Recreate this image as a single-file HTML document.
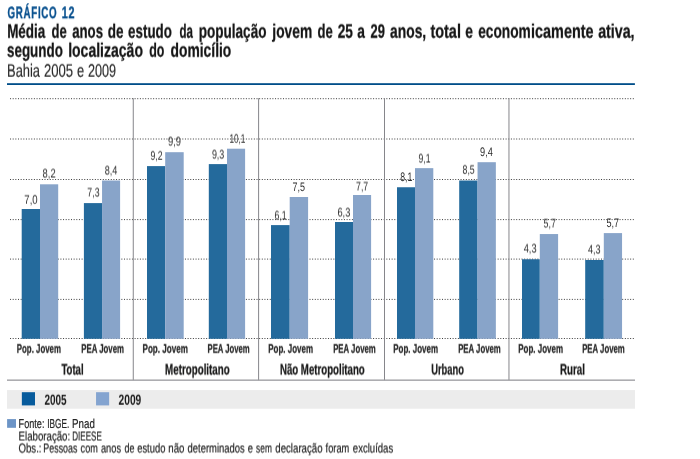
<!DOCTYPE html><html><head><meta charset="utf-8"><title>Gráfico 12</title><style>html,body{margin:0;padding:0;background:#fff;}body{width:700px;height:459px;overflow:hidden;}svg{display:block;will-change:transform;font-family:"Liberation Sans",sans-serif;}text{white-space:pre;text-rendering:geometricPrecision;}</style></head><body><svg width="700" height="459" viewBox="0 0 700 459">
<rect x="0" y="0" width="700" height="459" fill="#fff"/>
<rect x="7" y="83.2" width="627.9" height="1.8" fill="#004e89"/>
<rect x="7" y="390.1" width="628" height="18.6" fill="#ececec"/>
<line x1="10.05" x2="634.9" y1="98.7" y2="98.7" stroke="#3c3c3c" stroke-width="1" stroke-dasharray="1 1.65"/>
<line x1="10.05" x2="634.9" y1="139.0" y2="139.0" stroke="#3c3c3c" stroke-width="1" stroke-dasharray="1 1.65"/>
<line x1="10.05" x2="634.9" y1="179.5" y2="179.5" stroke="#3c3c3c" stroke-width="1" stroke-dasharray="1 1.65"/>
<line x1="10.05" x2="634.9" y1="219.6" y2="219.6" stroke="#3c3c3c" stroke-width="1" stroke-dasharray="1 1.65"/>
<line x1="10.05" x2="634.9" y1="259.1" y2="259.1" stroke="#3c3c3c" stroke-width="1" stroke-dasharray="1 1.65"/>
<line x1="10.05" x2="634.9" y1="299.4" y2="299.4" stroke="#3c3c3c" stroke-width="1" stroke-dasharray="1 1.65"/>
<line x1="10.05" x2="634.9" y1="338.5" y2="338.5" stroke="#3c3c3c" stroke-width="1" stroke-dasharray="1 1.65"/>
<rect x="21.7" y="209.0" width="18.30" height="129.80" fill="#246a9c"/>
<rect x="40.0" y="184.3" width="18.20" height="154.50" fill="#88a4c9"/>
<rect x="83.9" y="203.1" width="18.15" height="135.70" fill="#246a9c"/>
<rect x="102.05" y="180.5" width="18.05" height="158.30" fill="#88a4c9"/>
<rect x="147.0" y="166.1" width="18.20" height="172.70" fill="#246a9c"/>
<rect x="165.2" y="152.2" width="18.50" height="186.60" fill="#88a4c9"/>
<rect x="208.8" y="164.1" width="18.20" height="174.70" fill="#246a9c"/>
<rect x="227.0" y="148.7" width="18.10" height="190.10" fill="#88a4c9"/>
<rect x="271.0" y="225.1" width="18.70" height="113.70" fill="#246a9c"/>
<rect x="289.7" y="197.0" width="18.40" height="141.80" fill="#88a4c9"/>
<rect x="335.0" y="222.0" width="18.00" height="116.80" fill="#246a9c"/>
<rect x="353.0" y="195.0" width="18.10" height="143.80" fill="#88a4c9"/>
<rect x="397.0" y="187.25" width="18.00" height="151.55" fill="#246a9c"/>
<rect x="415.0" y="168.15" width="18.30" height="170.65" fill="#88a4c9"/>
<rect x="459.2" y="180.5" width="18.35" height="158.30" fill="#246a9c"/>
<rect x="477.55" y="162.2" width="18.30" height="176.60" fill="#88a4c9"/>
<rect x="522.0" y="259.25" width="17.80" height="79.55" fill="#246a9c"/>
<rect x="539.8" y="234.05" width="18.30" height="104.75" fill="#88a4c9"/>
<rect x="585.2" y="260.0" width="18.60" height="78.80" fill="#246a9c"/>
<rect x="603.8" y="233.1" width="18.25" height="105.70" fill="#88a4c9"/>
<rect x="132.76" y="98.2" width="1" height="282" fill="#86868b"/>
<rect x="258.10" y="98.2" width="1" height="282" fill="#86868b"/>
<rect x="384.00" y="98.2" width="1" height="282" fill="#86868b"/>
<rect x="508.46" y="98.2" width="1" height="282" fill="#86868b"/>
<rect x="7" y="379.5" width="628" height="1.3" fill="#9a9a9e"/>
<rect x="21.85" y="392.2" width="13.15" height="13.2" fill="#075b9c"/>
<rect x="96.05" y="392.2" width="13.1" height="13.2" fill="#84a4d0"/>
<rect x="7.1" y="419.1" width="8.9" height="8.7" fill="#6c94c6"/>
<defs>
<filter id="s1" x="-5%" y="-30%" width="110%" height="160%" color-interpolation-filters="sRGB"><feConvolveMatrix order="1 2" kernelMatrix="0.75 0.25" divisor="1" targetX="0" targetY="1" edgeMode="none" preserveAlpha="false"/></filter>
<filter id="s2" x="-5%" y="-30%" width="110%" height="160%" color-interpolation-filters="sRGB"><feConvolveMatrix order="1 2" kernelMatrix="0.5 0.5" divisor="1" targetX="0" targetY="1" edgeMode="none" preserveAlpha="false"/></filter>
<filter id="s3" x="-5%" y="-30%" width="110%" height="160%" color-interpolation-filters="sRGB"><feConvolveMatrix order="1 2" kernelMatrix="0.25 0.75" divisor="1" targetX="0" targetY="1" edgeMode="none" preserveAlpha="false"/></filter>
</defs>
<g filter="url(#s1)">
<text transform="translate(7.52 18) scale(0.5839 1)" font-size="16.72" font-weight="700" fill="#09518f" stroke="#09518f" stroke-width="0.4" letter-spacing="1.2">GRÁFICO</text>
<text transform="translate(61.80 18) scale(0.6467 1)" font-size="16.72" font-weight="700" fill="#09518f" stroke="#09518f" stroke-width="0.4" letter-spacing="1.2">12</text>
</g>
<g filter="url(#s3)">
<text transform="translate(7.14 37) scale(0.6914 1)" font-size="19.48" font-weight="700" fill="#161616" stroke="#161616" stroke-width="0.3">Média</text>
<text transform="translate(51.58 37) scale(0.6692 1)" font-size="19.48" font-weight="700" fill="#161616" stroke="#161616" stroke-width="0.3">de</text>
<text transform="translate(72.14 37) scale(0.6801 1)" font-size="19.48" font-weight="700" fill="#161616" stroke="#161616" stroke-width="0.3">anos</text>
<text transform="translate(107.66 37) scale(0.6923 1)" font-size="19.48" font-weight="700" fill="#161616" stroke="#161616" stroke-width="0.3">de</text>
<text transform="translate(128.09 37) scale(0.6860 1)" font-size="19.48" font-weight="700" fill="#161616" stroke="#161616" stroke-width="0.3">estudo</text>
<text transform="translate(179.52 37) scale(0.5909 1)" font-size="19.48" font-weight="700" fill="#161616" stroke="#161616" stroke-width="0.3">da</text>
<text transform="translate(198.65 37) scale(0.6967 1)" font-size="19.48" font-weight="700" fill="#161616" stroke="#161616" stroke-width="0.3">população</text>
<text transform="translate(272.36 37) scale(0.7071 1)" font-size="19.48" font-weight="700" fill="#161616" stroke="#161616" stroke-width="0.3">jovem</text>
<text transform="translate(317.58 37) scale(0.6692 1)" font-size="19.48" font-weight="700" fill="#161616" stroke="#161616" stroke-width="0.3">de</text>
<text transform="translate(337.63 37) scale(0.7011 1)" font-size="19.48" font-weight="700" fill="#161616" stroke="#161616" stroke-width="0.3">25</text>
<text transform="translate(357.30 37) scale(0.7087 1)" font-size="19.48" font-weight="700" fill="#161616" stroke="#161616" stroke-width="0.3">a</text>
<text transform="translate(370.57 37) scale(0.6618 1)" font-size="19.48" font-weight="700" fill="#161616" stroke="#161616" stroke-width="0.3">29</text>
<text transform="translate(390.06 37) scale(0.7102 1)" font-size="19.48" font-weight="700" fill="#161616" stroke="#161616" stroke-width="0.3">anos,</text>
<text transform="translate(430.38 37) scale(0.7433 1)" font-size="19.48" font-weight="700" fill="#161616" stroke="#161616" stroke-width="0.3">total</text>
<text transform="translate(465.34 37) scale(0.7087 1)" font-size="19.48" font-weight="700" fill="#161616" stroke="#161616" stroke-width="0.3">e</text>
<text transform="translate(478.14 37) scale(0.7055 1)" font-size="19.48" font-weight="700" fill="#161616" stroke="#161616" stroke-width="0.3">econom</text>
<text transform="translate(531.05 37) scale(0.7398 1)" font-size="19.48" font-weight="700" fill="#161616" stroke="#161616" stroke-width="0.3">icamente</text>
<text transform="translate(598.16 37) scale(0.7312 1)" font-size="19.48" font-weight="700" fill="#161616" stroke="#161616" stroke-width="0.3">ativa,</text>
</g>
<g filter="url(#s3)">
<text transform="translate(6.97 56) scale(0.6887 1)" font-size="19.48" font-weight="700" fill="#161616" stroke="#161616" stroke-width="0.3">segundo</text>
<text transform="translate(68.15 56) scale(0.7203 1)" font-size="19.48" font-weight="700" fill="#161616" stroke="#161616" stroke-width="0.3">localização</text>
<text transform="translate(149.23 56) scale(0.6395 1)" font-size="19.48" font-weight="700" fill="#161616" stroke="#161616" stroke-width="0.3">do</text>
<text transform="translate(170.53 56) scale(0.7111 1)" font-size="19.48" font-weight="700" fill="#161616" stroke="#161616" stroke-width="0.3">domicílio</text>
</g>
<g filter="url(#s3)">
<text transform="translate(7.02 76) scale(0.7110 1)" font-size="18.17" font-weight="400" fill="#2a2a2a" stroke="#2a2a2a" stroke-width="0.15">Bahia</text>
<text transform="translate(43.94 76) scale(0.7216 1)" font-size="18.17" font-weight="400" fill="#2a2a2a" stroke="#2a2a2a" stroke-width="0.15">2005</text>
<text transform="translate(76.93 76) scale(0.7099 1)" font-size="18.17" font-weight="400" fill="#2a2a2a" stroke="#2a2a2a" stroke-width="0.15">e</text>
<text transform="translate(87.98 76) scale(0.6967 1)" font-size="18.17" font-weight="400" fill="#2a2a2a" stroke="#2a2a2a" stroke-width="0.15">2009</text>
</g>
<g filter="url(#s3)">
<text transform="translate(24.34 203) scale(0.7714 1)" font-size="12.43" font-weight="400" fill="#2b2b2b">7,0</text>
</g>
<g filter="url(#s2)">
<text transform="translate(42.57 177) scale(0.7541 1)" font-size="12.43" font-weight="400" fill="#2b2b2b">8,2</text>
</g>
<g filter="url(#s2)">
<text transform="translate(87.35 196) scale(0.7044 1)" font-size="12.43" font-weight="400" fill="#2b2b2b">7,3</text>
</g>
<g filter="url(#s2)">
<text transform="translate(104.76 174) scale(0.7323 1)" font-size="12.43" font-weight="400" fill="#2b2b2b">8,4</text>
</g>
<g filter="url(#s3)">
<text transform="translate(150.54 159) scale(0.6985 1)" font-size="12.43" font-weight="400" fill="#2b2b2b">9,2</text>
</g>
<g filter="url(#s2)">
<text transform="translate(168.01 145) scale(0.7552 1)" font-size="12.43" font-weight="400" fill="#2b2b2b">9,9</text>
</g>
<g filter="url(#s2)">
<text transform="translate(211.90 158) scale(0.7193 1)" font-size="12.43" font-weight="400" fill="#2b2b2b">9,3</text>
</g>
<g filter="url(#s3)">
<text transform="translate(229.44 142) scale(0.6611 1)" font-size="12.43" font-weight="400" fill="#2b2b2b">10,1</text>
</g>
<g filter="url(#s2)">
<text transform="translate(274.62 219) scale(0.7001 1)" font-size="12.43" font-weight="400" fill="#2b2b2b">6,1</text>
</g>
<g>
<text transform="translate(292.41 191) scale(0.7220 1)" font-size="12.43" font-weight="400" fill="#2b2b2b">7,5</text>
</g>
<g filter="url(#s2)">
<text transform="translate(337.42 216) scale(0.7452 1)" font-size="12.43" font-weight="400" fill="#2b2b2b">6,3</text>
</g>
<g filter="url(#s2)">
<text transform="translate(356.03 190) scale(0.7068 1)" font-size="12.43" font-weight="400" fill="#2b2b2b">7,7</text>
</g>
<g>
<text transform="translate(400.23 181) scale(0.7000 1)" font-size="12.43" font-weight="400" fill="#2b2b2b">8,1</text>
</g>
<g filter="url(#s2)">
<text transform="translate(418.47 162) scale(0.6916 1)" font-size="12.43" font-weight="400" fill="#2b2b2b">9,1</text>
</g>
<g filter="url(#s3)">
<text transform="translate(462.54 173) scale(0.7042 1)" font-size="12.43" font-weight="400" fill="#2b2b2b">8,5</text>
</g>
<g>
<text transform="translate(480.11 156) scale(0.7397 1)" font-size="12.43" font-weight="400" fill="#2b2b2b">9,4</text>
</g>
<g filter="url(#s2)">
<text transform="translate(523.67 252) scale(0.7438 1)" font-size="12.43" font-weight="400" fill="#2b2b2b">4,3</text>
</g>
<g filter="url(#s2)">
<text transform="translate(543.57 227) scale(0.7110 1)" font-size="12.43" font-weight="400" fill="#2b2b2b">5,7</text>
</g>
<g filter="url(#s2)">
<text transform="translate(587.97 253) scale(0.7285 1)" font-size="12.43" font-weight="400" fill="#2b2b2b">4,3</text>
</g>
<g>
<text transform="translate(606.47 227) scale(0.7302 1)" font-size="12.43" font-weight="400" fill="#2b2b2b">5,7</text>
</g>
<g filter="url(#s3)">
<text transform="translate(16.78 352) scale(0.6376 1)" font-size="12.35" font-weight="700" fill="#2a2a2a" stroke="#2a2a2a" stroke-width="0.3">Pop. Jovem</text>
</g>
<g filter="url(#s3)">
<text transform="translate(81.21 352) scale(0.6341 1)" font-size="12.35" font-weight="700" fill="#2a2a2a" stroke="#2a2a2a" stroke-width="0.3">PEA Jovem</text>
</g>
<g filter="url(#s3)">
<text transform="translate(142.53 352) scale(0.6552 1)" font-size="12.35" font-weight="700" fill="#2a2a2a" stroke="#2a2a2a" stroke-width="0.3">Pop. Jovem</text>
</g>
<g filter="url(#s3)">
<text transform="translate(207.48 352) scale(0.6250 1)" font-size="12.35" font-weight="700" fill="#2a2a2a" stroke="#2a2a2a" stroke-width="0.3">PEA Jovem</text>
</g>
<g filter="url(#s3)">
<text transform="translate(268.19 352) scale(0.6464 1)" font-size="12.35" font-weight="700" fill="#2a2a2a" stroke="#2a2a2a" stroke-width="0.3">Pop. Jovem</text>
</g>
<g filter="url(#s3)">
<text transform="translate(333.15 352) scale(0.6311 1)" font-size="12.35" font-weight="700" fill="#2a2a2a" stroke="#2a2a2a" stroke-width="0.3">PEA Jovem</text>
</g>
<g filter="url(#s3)">
<text transform="translate(393.19 352) scale(0.6464 1)" font-size="12.35" font-weight="700" fill="#2a2a2a" stroke="#2a2a2a" stroke-width="0.3">Pop. Jovem</text>
</g>
<g filter="url(#s3)">
<text transform="translate(458.15 352) scale(0.6311 1)" font-size="12.35" font-weight="700" fill="#2a2a2a" stroke="#2a2a2a" stroke-width="0.3">PEA Jovem</text>
</g>
<g filter="url(#s3)">
<text transform="translate(518.19 352) scale(0.6464 1)" font-size="12.35" font-weight="700" fill="#2a2a2a" stroke="#2a2a2a" stroke-width="0.3">Pop. Jovem</text>
</g>
<g filter="url(#s3)">
<text transform="translate(582.15 352) scale(0.6311 1)" font-size="12.35" font-weight="700" fill="#2a2a2a" stroke="#2a2a2a" stroke-width="0.3">PEA Jovem</text>
</g>
<g filter="url(#s2)">
<text transform="translate(61.45 374) scale(0.6335 1)" font-size="15.12" font-weight="700" fill="#1a1a1a" stroke="#1a1a1a" stroke-width="0.3">Total</text>
</g>
<g filter="url(#s2)">
<text transform="translate(165.09 374) scale(0.6468 1)" font-size="15.12" font-weight="700" fill="#1a1a1a" stroke="#1a1a1a" stroke-width="0.3">Metropolitano</text>
</g>
<g filter="url(#s2)">
<text transform="translate(279.94 374) scale(0.6393 1)" font-size="15.12" font-weight="700" fill="#1a1a1a" stroke="#1a1a1a" stroke-width="0.3">Não Metropolitano</text>
</g>
<g filter="url(#s2)">
<text transform="translate(431.24 374) scale(0.6174 1)" font-size="15.12" font-weight="700" fill="#1a1a1a" stroke="#1a1a1a" stroke-width="0.3">Urbano</text>
</g>
<g filter="url(#s2)">
<text transform="translate(560.08 374) scale(0.6449 1)" font-size="15.12" font-weight="700" fill="#1a1a1a" stroke="#1a1a1a" stroke-width="0.3">Rural</text>
</g>
<g filter="url(#s3)">
<text transform="translate(44.44 404) scale(0.6804 1)" font-size="14.68" font-weight="700" fill="#1a1a1a">2005</text>
</g>
<g filter="url(#s3)">
<text transform="translate(118.55 404) scale(0.6974 1)" font-size="14.68" font-weight="700" fill="#1a1a1a">2009</text>
</g>
<g>
<text transform="translate(18.60 428) scale(0.7050 1)" font-size="12.94" font-weight="400" fill="#262626" stroke="#262626" stroke-width="0.2">Fonte:</text>
<text transform="translate(47.23 428) scale(0.6392 1)" font-size="12.94" font-weight="400" fill="#262626" stroke="#262626" stroke-width="0.2">IBGE.</text>
<text transform="translate(72.12 428) scale(0.7533 1)" font-size="12.94" font-weight="400" fill="#262626" stroke="#262626" stroke-width="0.2">Pnad</text>
</g>
<g filter="url(#s2)">
<text transform="translate(18.56 440) scale(0.7478 1)" font-size="12.94" font-weight="400" fill="#262626" stroke="#262626" stroke-width="0.2">Elaboração:</text>
<text transform="translate(72.27 440) scale(0.6224 1)" font-size="12.94" font-weight="400" fill="#262626" stroke="#262626" stroke-width="0.2">DIEESE</text>
</g>
<g filter="url(#s2)">
<text transform="translate(18.44 452) scale(0.7470 1)" font-size="12.94" font-weight="400" fill="#262626" stroke="#262626" stroke-width="0.2">Obs.:</text>
<text transform="translate(43.35 452) scale(0.6861 1)" font-size="12.94" font-weight="400" fill="#262626" stroke="#262626" stroke-width="0.2">Pessoas</text>
<text transform="translate(80.59 452) scale(0.7053 1)" font-size="12.94" font-weight="400" fill="#262626" stroke="#262626" stroke-width="0.2">com</text>
<text transform="translate(100.97 452) scale(0.7151 1)" font-size="12.94" font-weight="400" fill="#262626" stroke="#262626" stroke-width="0.2">anos</text>
<text transform="translate(124.48 452) scale(0.6916 1)" font-size="12.94" font-weight="400" fill="#262626" stroke="#262626" stroke-width="0.2">de</text>
<text transform="translate(137.20 452) scale(0.7261 1)" font-size="12.94" font-weight="400" fill="#262626" stroke="#262626" stroke-width="0.2">estudo</text>
<text transform="translate(168.33 452) scale(0.7480 1)" font-size="12.94" font-weight="400" fill="#262626" stroke="#262626" stroke-width="0.2">não</text>
<text transform="translate(187.54 452) scale(0.7286 1)" font-size="12.94" font-weight="400" fill="#262626" stroke="#262626" stroke-width="0.2">determinados</text>
<text transform="translate(247.82 452) scale(0.7219 1)" font-size="12.94" font-weight="400" fill="#262626" stroke="#262626" stroke-width="0.2">e</text>
<text transform="translate(256.12 452) scale(0.6433 1)" font-size="12.94" font-weight="400" fill="#262626" stroke="#262626" stroke-width="0.2">sem</text>
<text transform="translate(275.31 452) scale(0.7458 1)" font-size="12.94" font-weight="400" fill="#262626" stroke="#262626" stroke-width="0.2">declaração</text>
<text transform="translate(325.60 452) scale(0.7138 1)" font-size="12.94" font-weight="400" fill="#262626" stroke="#262626" stroke-width="0.2">foram</text>
<text transform="translate(352.81 452) scale(0.7395 1)" font-size="12.94" font-weight="400" fill="#262626" stroke="#262626" stroke-width="0.2">excluídas</text>
</g>
</svg></body></html>
